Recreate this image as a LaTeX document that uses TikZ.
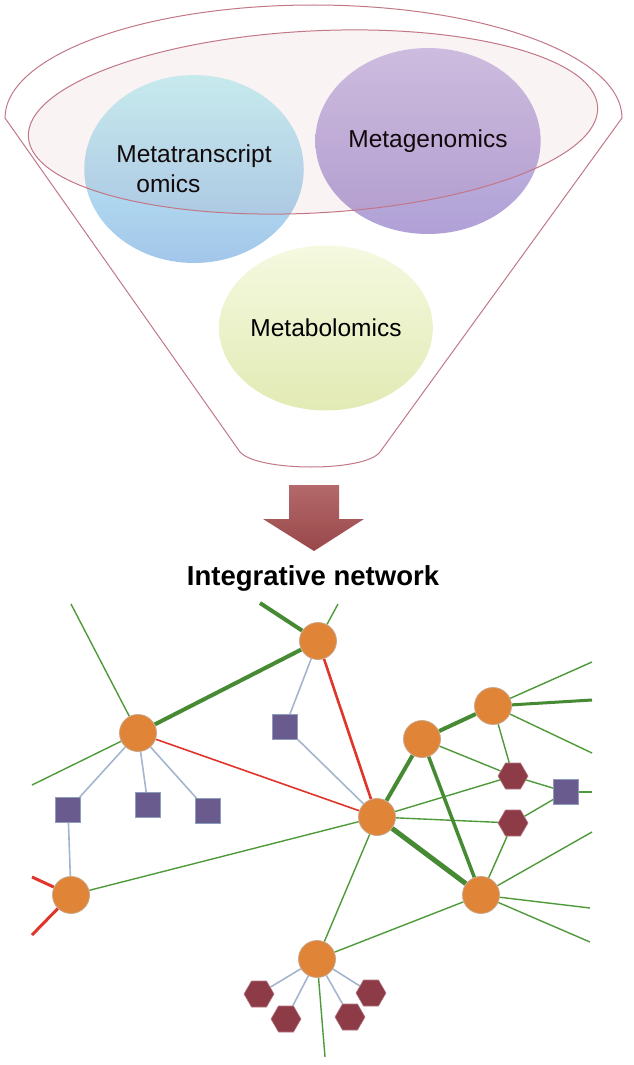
\documentclass[tikz,border=0pt]{standalone}
\usepackage{fontspec}
\setmainfont{Liberation Sans}
\usetikzlibrary{shapes.geometric,backgrounds}
\definecolor{rimpink}{HTML}{C27786}
\definecolor{hubfill}{HTML}{E08438}
\definecolor{hubrim}{HTML}{C9A78A}
\definecolor{protfill}{HTML}{6A5B8E}
\definecolor{protrim}{HTML}{8E9DBB}
\definecolor{metfill}{HTML}{8E3B48}
\definecolor{linkgreen}{HTML}{4E9A3A}
\definecolor{linkred}{HTML}{E0352A}
\definecolor{linkblue}{HTML}{A3B6CE}
\definecolor{arrowred}{HTML}{A64E50}
\definecolor{mttop}{HTML}{C8F6F8}
\definecolor{mtmid}{HTML}{7CC8E4}
\definecolor{mtbot}{HTML}{A2C6EA}
\definecolor{mgtop}{HTML}{CFC3E8}
\definecolor{mgmid}{HTML}{A08CC8}
\definecolor{mgbot}{HTML}{B0A0D6}
\definecolor{mbtop}{HTML}{F5F9E0}
\definecolor{mbbot}{HTML}{E2EAB4}

\tikzset{
	omic/.style={ellipse, inner sep=0pt, align=center, font=\fontsize{24.5}{30}\selectfont},
	hub/.style={circle, fill=hubfill, draw=hubrim, line width=0.8pt, minimum size=37pt, inner sep=0pt},
	prot/.style={rectangle, fill=protfill, draw=protrim, line width=0.8pt, minimum size=25pt, inner sep=0pt},
	metab/.style={regular polygon, regular polygon sides=6, fill=metfill, draw=metfill!70!white, line width=0.6pt, minimum size=30pt, inner sep=0pt},
	gl/.style={draw=linkgreen, line width=1.4pt},
	gL/.style={draw=linkgreen!90!black, line width=4pt},
	rl/.style={draw=linkred, line width=1.6pt},
	bl/.style={draw=linkblue, line width=1.6pt}
}

\begin{document}
\begin{tikzpicture}[x=1pt, y=-1pt]
			\useasboundingbox (0,0) rectangle (634,1065);
			% omics funnel
			\node[omic, align=left, minimum width=210pt, minimum height=188pt, top color=mttop, middle color=mtmid, bottom color=mtbot] (mt) at (194,169) {Metatranscript\\\hspace*{20pt}omics};
			\node[omic, minimum width=194pt, minimum height=186pt, top color=mgtop, middle color=mgmid, bottom color=mgbot] (mg) at (428,141) {Metagenomics};
			\node[omic, minimum width=177pt, minimum height=165pt, top color=mbtop, bottom color=mbbot] (mb) at (326,328) {Metabolomics};
			\begin{scope}[shift={(313,122)}, rotate=3]
				\filldraw[fill=rimpink, fill opacity=0.09, draw=rimpink, line width=1pt] (0,0) ellipse[x radius=285, y radius=91];
			\end{scope}
			\draw[rimpink, line width=1pt] (5,118) arc[start angle=180, end angle=360, x radius=308.5, y radius=113]
				-- (380,452) .. controls (365,472) and (258,472) .. (240,452) -- cycle;
			\shade[top color=arrowred!85!white, bottom color=arrowred!92!black] (289,485) -- (339,485) -- (339,519) -- (364,519) -- (314,551) -- (263,519) -- (289,519) -- cycle;
			\node[font=\bfseries\fontsize{27.5}{32}\selectfont] (title) at (313,578) {Integrative network};
			% network
			\node[hub] (A) at (318,641) {};
			\node[hub] (B) at (138,733) {};
			\node[hub] (C) at (422,739) {};
			\node[hub] (D) at (493,706) {};
			\node[hub] (E) at (377,817) {};
			\node[hub] (F) at (71,895) {};
			\node[hub] (G) at (481,895) {};
			\node[hub] (H) at (317,959) {};
			\node[prot] (p1) at (285,727) {};
			\node[prot] (p2) at (68,810) {};
			\node[prot] (p3) at (148,805) {};
			\node[prot] (p4) at (208,811) {};
			\node[prot] (p5) at (566,792) {};
			\node[metab] (m1) at (513,776) {};
			\node[metab] (m2) at (513,823) {};
			\node[metab] (m3) at (259,994) {};
			\node[metab] (m4) at (286,1019) {};
			\node[metab] (m5) at (350,1017) {};
			\node[metab] (m6) at (371,993) {};
			\coordinate (a1) at (260,603);
			\coordinate (a2) at (338,604);
			\coordinate (b1) at (71,604);
			\coordinate (b2) at (32,785);
			\coordinate (f1) at (32,877);
			\coordinate (f2) at (32,935);
			\coordinate (d1) at (592,662);
			\coordinate (d2) at (592,700);
			\coordinate (d3) at (592,753);
			\coordinate (p5e) at (592,792);
			\coordinate (g1) at (592,832);
			\coordinate (g2) at (590,908);
			\coordinate (g3) at (590,942);
			\coordinate (h1) at (325,1057);
			\begin{pgfonlayer}{background}
			\path
			(A) edge[gL] (a1) edge[gl] (a2) edge[gL] (B) edge[bl] (p1) edge[rl, line width=2.6pt] (E)
			(B) edge[gl] (b1) edge[gl] (b2) edge[rl] (E) edge[bl] (p2) edge[bl] (p3) edge[bl] (p4)
			(p2) edge[bl] (F)
			(F) edge[rl, line width=3pt] (f1) edge[rl, line width=3pt] (f2) edge[gl] (E)
			(E) edge[bl] (p1) edge[gL] (C) edge[gL, line width=5pt] (G) edge[gl] (m1) edge[gl] (m2) edge[gl] (H)
			(C) edge[gL] (D) edge[gL, line width=3.5pt] (G) edge[gl] (m1)
			(D) edge[gl] (d1) edge[gL, line width=3pt] (d2) edge[gl] (d3) edge[gl] (m1)
			(m1) edge[gl] (p5)
			(m2) edge[gl] (p5) edge[gl] (G)
			(p5) edge[gl] (p5e)
			(G) edge[gl] (g1) edge[gl] (g2) edge[gl] (g3) edge[gl] (H)
			(H) edge[bl] (m3) edge[bl] (m4) edge[bl] (m5) edge[bl] (m6) edge[gl] (h1);
			\end{pgfonlayer}
		\end{tikzpicture}
\end{document}
